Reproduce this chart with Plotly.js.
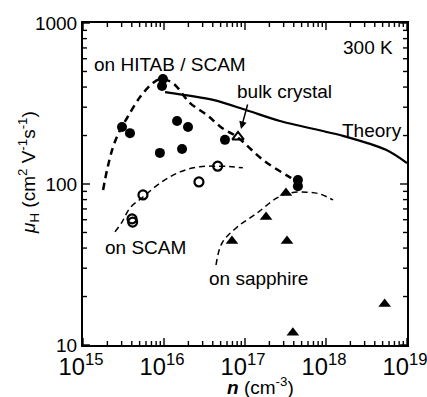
<!DOCTYPE html>
<html><head><meta charset="utf-8">
<script src="https://cdn.plot.ly/plotly-3.0.1.min.js"></script>
<style>html,body{margin:0;padding:0;background:#fff}#chart{width:427px;height:397px}</style>
</head><body><div id="chart"></div>
<script>
// on HITAB / SCAM (filled circles)
const hitabN  = [9.7e15, 9.45e15, 3.03e15, 3.8e15, 1.45e16, 1.98e16, 8.9e15, 1.67e16, 5.66e16, 4.5e17, 4.5e17];
const hitabMu = [449, 406, 226, 207, 246, 226, 156, 165, 188, 106, 97];
// on SCAM (open circles)
const scamN  = [4.03e15, 4.1e15, 5.5e15, 2.7e16, 4.6e16];
const scamMu = [60.7, 58, 85.5, 103, 129];
// bulk crystal (open triangle)
const bulkN  = [8.2e16];
const bulkMu = [196];
// on sapphire (filled triangles)
const sapN  = [6.9e16, 1.82e17, 3.2e17, 3.3e17, 3.9e17, 5.3e18];
const sapMu = [44.3, 62.4, 88, 44.3, 11.9, 18];
// Theory (solid line)
const theoryN  = [1.03e16, 4.03e16, 1.03e17, 2.7e17, 1.62e18, 5.5e18, 1e19];
const theoryMu = [372, 333, 288, 246, 199, 163, 135];
// guide curves (dashed)
const hitabCurveN  = [1.77e15, 1.98e15, 2.35e15, 2.87e15, 3.5e15, 5.06e15, 7.3e15, 8.9e15, 1.09e16, 1.37e16, 2.1e16, 3.4e16, 5.2e16, 8.0e16, 1.67e17, 3.6e17, 4.5e17];
const hitabCurveMu = [91.8, 122, 170, 216, 257, 347, 424, 449, 442, 412, 318, 268, 223, 196, 141, 110, 103];
const scamCurveN  = [2.48e15, 3.03e15, 3.8e15, 5.5e15, 8.9e15, 1.58e16, 2.78e16, 4.77e16, 6.9e16, 9.4e16];
const scamCurveMu = [50.4, 58, 71, 83, 101, 119, 128, 129, 128, 126];
const sapCurveN  = [4.39e16, 5.2e16, 8.0e16, 1.41e17, 2.48e17, 3.6e17, 5.8e17, 8.4e17, 1.22e18];
const sapCurveMu = [31.4, 43, 54, 66, 82, 88, 89, 86.7, 79.6];

// axis ranges (log10) and tick decades
const xRange = [15, 19];
const yRange = [1, 3];
const xDecades = [15, 16, 17, 18, 19];
const yDecades = [1, 2, 3];

const FONT = 'Arial, "Liberation Sans", Helvetica, sans-serif';
const W = 427, H = 397, ML = 83, MR = 20, MT = 23, MB = 52;
const PW = W - ML - MR, PH = H - MT - MB;

// tick marks on all four sides (inside), majors at decades, minors at 2..9
function tickShapes() {
  const shapes = [];
  const st = {type:'line', xref:'paper', yref:'paper', line:{color:'#000', width:1.4}, layer:'above'};
  function addX(v, len) {
    const p = (Math.log10(v) - xRange[0]) / (xRange[1] - xRange[0]);
    if (p < 0 || p > 1) return;
    shapes.push(Object.assign({}, st, {x0:p, x1:p, y0:0, y1:len / PH}));
    shapes.push(Object.assign({}, st, {x0:p, x1:p, y0:1, y1:1 - len / PH}));
  }
  function addY(v, len) {
    const p = (Math.log10(v) - yRange[0]) / (yRange[1] - yRange[0]);
    if (p < 0 || p > 1) return;
    shapes.push(Object.assign({}, st, {y0:p, y1:p, x0:0, x1:len / PW}));
    shapes.push(Object.assign({}, st, {y0:p, y1:p, x0:1, x1:1 - len / PW}));
  }
  xDecades.forEach(d => { addX(Math.pow(10, d), 7); for (let k = 2; k <= 9; k++) addX(k * Math.pow(10, d), 4); });
  yDecades.forEach(d => { addY(Math.pow(10, d), 7); for (let k = 2; k <= 9; k++) addY(k * Math.pow(10, d), 4); });
  return shapes;
}

const traces = [
  {x: hitabCurveN, y: hitabCurveMu, mode:'lines', line:{color:'#000', width:2.5, dash:'7px,5px', shape:'spline', smoothing:1}},
  {x: scamCurveN, y: scamCurveMu, mode:'lines', line:{color:'#000', width:1.5, dash:'6px,4px', shape:'spline', smoothing:1}},
  {x: sapCurveN, y: sapCurveMu, mode:'lines', line:{color:'#000', width:1.5, dash:'6px,4px', shape:'spline', smoothing:1}},
  {x: theoryN, y: theoryMu, mode:'lines', line:{color:'#000', width:2.2, shape:'spline', smoothing:0.8}},
  {x: hitabN, y: hitabMu, mode:'markers', marker:{symbol:'circle', size:10, color:'#000'}},
  {x: scamN, y: scamMu, mode:'markers', marker:{symbol:'circle-open', size:9, color:'#000', line:{width:2.2, color:'#000'}}},
  {x: bulkN, y: bulkMu, mode:'markers', marker:{symbol:'triangle-up-open', size:10, color:'#000', line:{width:2, color:'#000'}}},
  {x: sapN, y: sapMu, mode:'markers', marker:{symbol:'triangle-up', size:11, color:'#000'}}
];

function ann(text, x, y, xanchor, extra) {
  return Object.assign({text, x, y, xref:'paper', yref:'paper', xanchor: xanchor||'left', yanchor:'middle',
    showarrow:false, font:{family:FONT, size:19, color:'#000'}}, extra||{});
}

const layout = {
  width:W, height:H,
  margin:{l:ML, r:MR, t:MT, b:MB},
  paper_bgcolor:'#fff', plot_bgcolor:'#fff',
  showlegend:false,
  font:{family:FONT, size:19, color:'#000'},
  xaxis:{type:'log', range:xRange, dtick:1, exponentformat:'power',
    showline:true, linecolor:'#000', linewidth:2, mirror:true, showgrid:false, zeroline:false,
    ticks:'', ticklabeloverflow:'allow', ticklabelshift:-2,
    tickfont:{family:FONT, size:19, color:'#000'}},
  yaxis:{type:'log', range:yRange, dtick:1, exponentformat:'none',
    showline:true, linecolor:'#000', linewidth:2, mirror:true, showgrid:false, zeroline:false,
    ticks:'', ticklabeloverflow:'allow',
    tickfont:{family:FONT, size:19, color:'#000'}},
  shapes: tickShapes(),
  annotations:[
    ann('300 K', 0.963, 0.925, 'right'),
    ann('on HITAB / SCAM', 0.028, 0.870, 'left'),
    ann('bulk crystal', 0.469, 0.786, 'left'),
    ann('Theory', 0.793, 0.665, 'left'),
    ann('on SCAM', 0.062, 0.304, 'left'),
    ann('on sapphire', 0.383, 0.208, 'left'),
    ann('<b><i>n</i></b> (cm<sup>-3</sup>)', 0.549, -0.127, 'center'),
    ann('<i>μ</i><sub>H</sub> (cm<sup>2</sup> V<sup>-1</sup>s<sup>-1</sup>)', -0.170, 0.537, 'center', {textangle:-90}),
    {text:'', x:(241-83)/324, y:(345-129)/322, xref:'paper', yref:'paper', showarrow:true,
     ax:7, ay:-26, arrowhead:2, arrowsize:1, arrowwidth:1.5, arrowcolor:'#000'}
  ]
};
Plotly.newPlot('chart', traces, layout, {displayModeBar:false, staticPlot:true});
</script></body></html>
